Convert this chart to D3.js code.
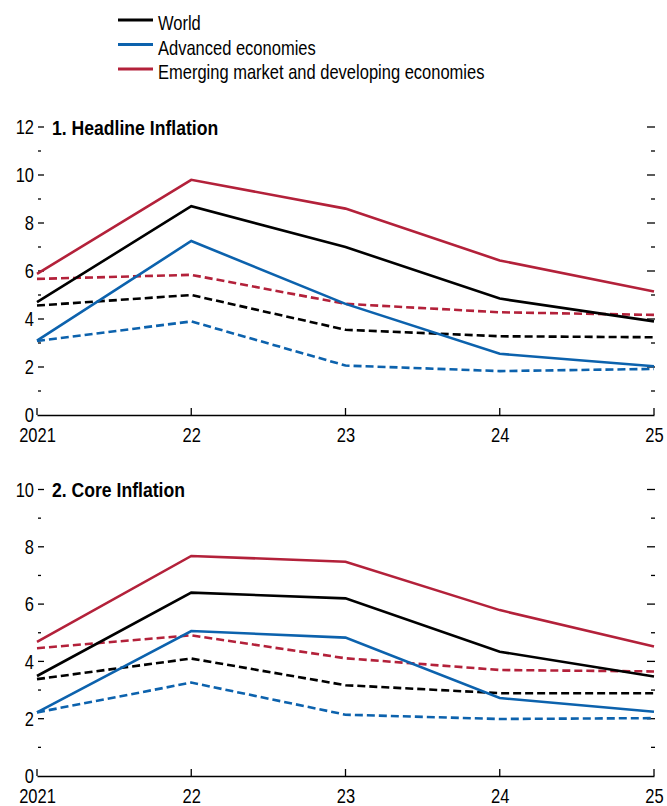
<!DOCTYPE html>
<html>
<head>
<meta charset="utf-8">
<script src="https://cdn.jsdelivr.net/npm/d3@7"></script>
<style>
  html, body { margin: 0; padding: 0; background: #fff; }
  svg { display: block; }
  text { font-family: 'Liberation Sans', Arial, sans-serif; fill: #000; }
</style>
</head>
<body>
<svg id="chart" width="667" height="806"></svg>
<script>
// ---- Data ----
const years = [2021, 2022, 2023, 2024, 2025];
const xTickLabels = ["2021", "22", "23", "24", "25"];

const seriesNames = ["World", "Advanced economies", "Emerging market and developing economies"];
const seriesColors = ["#000000", "#0c62ad", "#b3213a"];

// Panel 1: Headline inflation (solid = current, dashed = earlier projection)
const headlineWorld      = [4.7, 8.7, 7.0, 4.85, 3.9];
const headlineAdvanced   = [3.1, 7.25, 4.63, 2.55, 2.03];
const headlineEmerging   = [5.88, 9.8, 8.6, 6.44, 5.15];
const headlineWorldD     = [4.56, 5.0, 3.55, 3.28, 3.24];
const headlineAdvancedD  = [3.08, 3.9, 2.06, 1.83, 1.92];
const headlineEmergingD  = [5.67, 5.84, 4.63, 4.28, 4.17];

// Panel 2: Core inflation
const coreWorld      = [3.49, 6.4, 6.2, 4.34, 3.47];
const coreAdvanced   = [2.22, 5.06, 4.83, 2.72, 2.24];
const coreEmerging   = [4.68, 7.68, 7.48, 5.79, 4.52];
const coreWorldD     = [3.38, 4.1, 3.17, 2.89, 2.89];
const coreAdvancedD  = [2.22, 3.26, 2.14, 1.99, 2.02];
const coreEmergingD  = [4.46, 4.91, 4.11, 3.7, 3.65];

const panel1Title = "1. Headline Inflation";
const panel2Title = "2. Core Inflation";
const panel1YTicks = [0, 2, 4, 6, 8, 10, 12];
const panel2YTicks = [0, 2, 4, 6, 8, 10];

// ---- Drawing ----
const svg = d3.select("#chart");
const FS = 20;
const SX = 0.825;   // horizontal condensing of the font

function ctext(parent, x, y, str, opts = {}) {
  const t = parent.append("text")
    .attr("transform", `translate(${x},${y}) scale(${opts.sx || SX},1)`)
    .attr("font-size", opts.fs || FS)
    .text(str);
  if (opts.anchor) t.attr("text-anchor", opts.anchor);
  if (opts.bold) t.attr("font-weight", "bold");
  return t;
}

// Legend
const legend = svg.append("g");
seriesNames.forEach((name, i) => {
  const y = 20 + i * 24.5;
  legend.append("line").attr("x1", 118).attr("x2", 153).attr("y1", y).attr("y2", y)
    .attr("stroke", seriesColors[i]).attr("stroke-width", 3);
  ctext(legend, 158, y + 10.3, name);
});

const x = d3.scaleLinear().domain([2021, 2025]).range([37, 654]);

function panel(cfg) {
  const g = svg.append("g");
  const y = d3.scaleLinear().domain([0, cfg.yMax]).range([cfg.y0, cfg.yTop]);
  const minor = d3.range(1, cfg.yMax + 1).filter(v => v % 2 === 1);

  // left ticks (inward)
  g.selectAll(".lmaj").data(cfg.yTicks.filter(v => v > 0)).join("line")
    .attr("x1", 38).attr("x2", 44).attr("y1", d => y(d)).attr("y2", d => y(d))
    .attr("stroke", "#000").attr("stroke-width", 1.3);
  g.selectAll(".lmin").data(minor).join("line")
    .attr("x1", 38).attr("x2", 41).attr("y1", d => y(d)).attr("y2", d => y(d))
    .attr("stroke", "#000").attr("stroke-width", 1.3);
  // right ticks (inward)
  g.selectAll(".rmaj").data(cfg.yTicks.filter(v => v > 0)).join("line")
    .attr("x1", 647).attr("x2", 655).attr("y1", d => y(d)).attr("y2", d => y(d))
    .attr("stroke", "#000").attr("stroke-width", 1.3);
  g.selectAll(".rmin").data(minor).join("line")
    .attr("x1", 651).attr("x2", 655).attr("y1", d => y(d)).attr("y2", d => y(d))
    .attr("stroke", "#000").attr("stroke-width", 1.3);

  // y labels
  cfg.yTicks.forEach(v => ctext(g, 34, y(v) + 7.2, String(v), { anchor: "end" }));

  // title
  ctext(g, 52, cfg.yTop + 7.5, cfg.title, { bold: true, sx: 0.88 });

  // x axis
  const xAxis = d3.axisBottom(x).tickValues(years).tickSize(0).tickFormat((d, i) => xTickLabels[i]);
  const ax = g.append("g").attr("transform", `translate(0,${cfg.y0})`).call(xAxis);
  ax.attr("font-family", null).attr("font-size", null);
  ax.select(".domain").attr("stroke", "#000").attr("stroke-width", 1.3);
  ax.selectAll(".tick text")
    .attr("y", null).attr("dy", null)
    .attr("transform", `translate(0,27) scale(${SX},1)`)
    .attr("font-size", FS).attr("fill", "#000");
  g.selectAll(".xt").data(years).join("line")
    .attr("x1", d => x(d)).attr("x2", d => x(d)).attr("y1", cfg.y0 - 7).attr("y2", cfg.y0)
    .attr("stroke", "#000").attr("stroke-width", 1.3);

  const line = d3.line().x((d, i) => x(years[i])).y(d => y(d));
  cfg.dashed.forEach((vals, i) => {
    g.append("path").datum(vals).attr("d", line).attr("fill", "none")
      .attr("stroke", seriesColors[i]).attr("stroke-width", 2.6).attr("stroke-dasharray", "8,4");
  });
  cfg.solid.forEach((vals, i) => {
    g.append("path").datum(vals).attr("d", line).attr("fill", "none")
      .attr("stroke", seriesColors[i]).attr("stroke-width", 2.6);
  });
}

panel({
  y0: 415, yTop: 127, yMax: 12, yTicks: panel1YTicks, title: panel1Title,
  solid: [headlineWorld, headlineAdvanced, headlineEmerging],
  dashed: [headlineWorldD, headlineAdvancedD, headlineEmergingD]
});
panel({
  y0: 776, yTop: 489.5, yMax: 10, yTicks: panel2YTicks, title: panel2Title,
  solid: [coreWorld, coreAdvanced, coreEmerging],
  dashed: [coreWorldD, coreAdvancedD, coreEmergingD]
});
</script>
</body>
</html>
